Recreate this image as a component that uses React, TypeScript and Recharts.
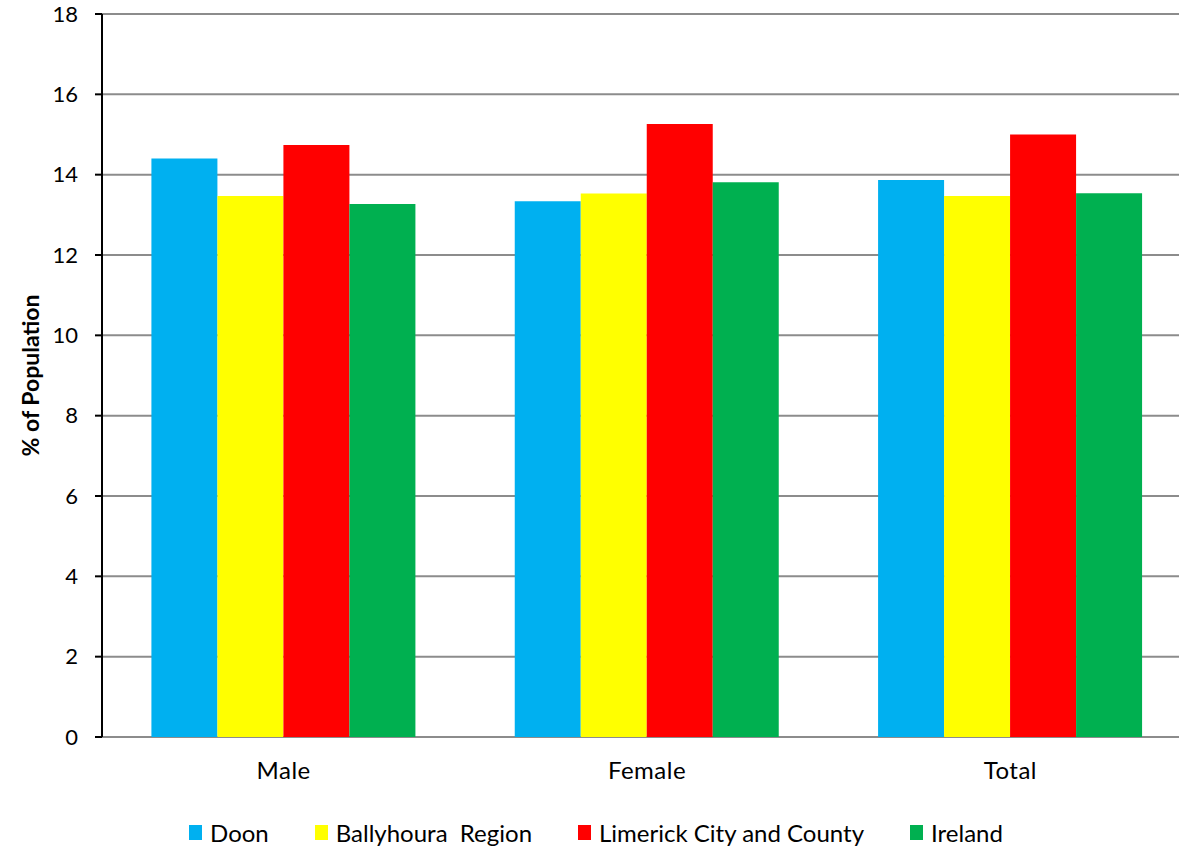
import { Bar, BarChart, CartesianGrid, Legend, XAxis, YAxis } from "recharts";

const categories = ["Male", "Female", "Total"];
const doon = [14.4, 13.34, 13.87];
const ballyhoura = [13.47, 13.53, 13.47];
const limerick = [14.74, 15.26, 15.0];
const ireland = [13.27, 13.81, 13.54];
const yTicks = [0, 2, 4, 6, 8, 10, 12, 14, 16, 18];

const series = [
  { key: "doon", name: "Doon", color: "#00B0F0" },
  { key: "ballyhoura", name: "Ballyhoura  Region", color: "#FFFF00" },
  { key: "limerick", name: "Limerick City and County", color: "#FF0000" },
  { key: "ireland", name: "Ireland", color: "#00B050" },
];

const data = categories.map((c, i) => ({
  category: c,
  doon: doon[i],
  ballyhoura: ballyhoura[i],
  limerick: limerick[i],
  ireland: ireland[i],
}));

const FONT = "Lato, 'Open Sans', sans-serif";

function YLabel(props: any) {
  const { x, y, height } = props.viewBox;
  const cx = x + 30;
  const cy = y + height / 2;
  return (
    <text
      x={cx}
      y={cy}
      transform={`rotate(-90 ${cx} ${cy})`}
      textAnchor="middle"
      dominantBaseline="central"
      fontFamily={FONT}
      fontWeight={700}
      fontSize={23}
      fill="#000"
    >
      % of Population
    </text>
  );
}

function LegendContent() {
  return (
    <div
      style={{
        height: 32,
        display: "flex",
        justifyContent: "center",
        alignItems: "center",
        fontFamily: FONT,
        fontSize: 24,
        color: "#000",
      }}
    >
      {series.map((s) => (
        <div key={s.key} style={{ display: "flex", alignItems: "center", margin: "0 23px" }}>
          <span style={{ width: 13, height: 15, background: s.color, marginRight: 8 }} />
          <span style={{ whiteSpace: "pre" }}>{s.name}</span>
        </div>
      ))}
    </div>
  );
}

export default function App() {
  return (
    <div
      style={{
        position: "fixed",
        left: 0,
        top: 0,
        width: 1179,
        height: 848,
        overflow: "hidden",
        background: "#fff",
      }}
    >
      <BarChart
        width={1200}
        height={848}
        data={data}
        margin={{ top: 14, right: 8, left: 0, bottom: 0 }}
        barCategoryGap="13.6%"
        barGap={0}
      >
        <CartesianGrid vertical={false} stroke="#8c8c8c" strokeWidth={2} />
        <XAxis
          xAxisId="frame"
          type="number"
          domain={[0, 3]}
          ticks={[0, 1, 2, 3]}
          height={0}
          axisLine={{ stroke: "#000", strokeWidth: 2 }}
          tickLine={{ stroke: "#000", strokeWidth: 2 }}
          tickSize={8}
          tickFormatter={() => ""}
        />
        <XAxis
          dataKey="category"
          height={79}
          axisLine={false}
          tickLine={false}
          tickSize={0}
          tickMargin={25}
          tick={{ fill: "#000", fontSize: 24, fontFamily: FONT, letterSpacing: 0.5 }}
        />
        <YAxis
          width={102}
          domain={[0, 18]}
          ticks={yTicks}
          interval={0}
          axisLine={{ stroke: "#000", strokeWidth: 2 }}
          tickLine={{ stroke: "#000", strokeWidth: 2 }}
          tickSize={7}
          tickMargin={17}
          tick={{ fill: "#000", fontSize: 22, fontFamily: FONT }}
          label={<YLabel />}
        />
        <Legend verticalAlign="bottom" content={<LegendContent />} wrapperStyle={{ bottom: 0 }} />
        {series.map((s) => (
          <Bar key={s.key} dataKey={s.key} name={s.name} fill={s.color} isAnimationActive={false} />
        ))}
      </BarChart>
    </div>
  );
}
